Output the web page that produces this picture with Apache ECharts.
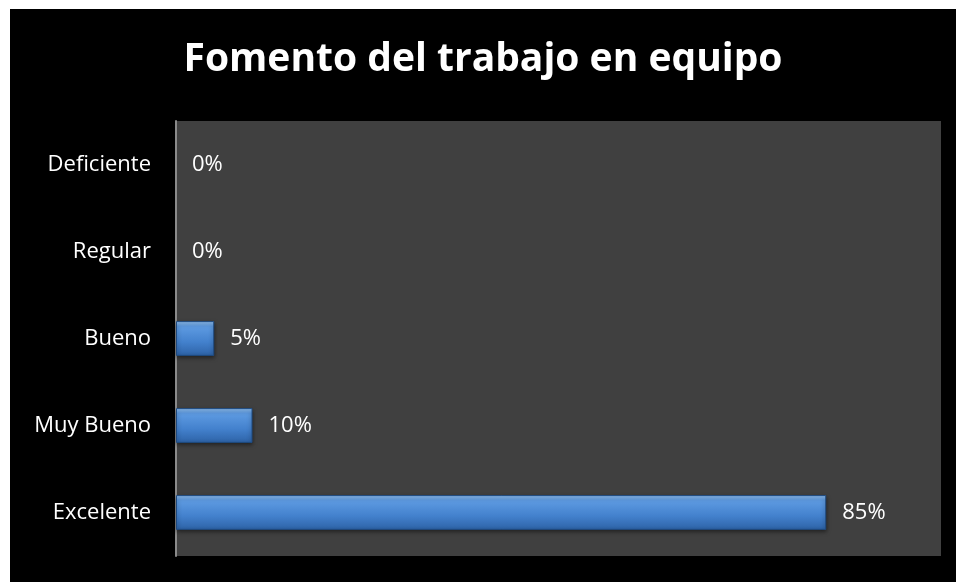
<!DOCTYPE html>
<html>
<head>
<meta charset="utf-8">
<script src="https://cdn.jsdelivr.net/npm/echarts@6/dist/echarts.min.js"></script>
<style>
    html, body { margin: 0; padding: 0; background: #fff; }
    #chart {
        position: absolute;
        left: 10px;
        top: 9px;
        width: 946px;
        height: 573px;
        background: #000;
    }
</style>
</head>
<body>
<div id="chart"></div>
<script>
// categories from top to bottom as drawn
var categories = ['Deficiente', 'Regular', 'Bueno', 'Muy Bueno', 'Excelente'];
var values = [0, 0, 5, 10, 85]; // percent
var titleText = 'Fomento del trabajo en equipo';

var myChart = echarts.init(document.getElementById('chart'));

// zero bars: no border sliver
var barData = values.map(function (v) {
    return v === 0 ? { value: v, itemStyle: { borderWidth: 0, shadowBlur: 0, opacity: 0 } } : v;
});

var options = {
    backgroundColor: '#000',
    animation: false,
    title: {
        text: titleText,
        left: 'center',
        top: 26,
        textStyle: {
            color: '#fff',
            fontFamily: 'Open Sans',
            fontWeight: 'bold',
            fontSize: 39
        }
    },
    grid: {
        left: 166,
        right: 15,
        top: 112,
        bottom: 26,
        show: true,
        backgroundColor: '#404040',
        borderWidth: 0
    },
    xAxis: {
        type: 'value',
        min: 0,
        max: 100,
        show: false
    },
    yAxis: {
        type: 'category',
        inverse: true,
        data: categories,
        axisLine: {
            show: true,
            lineStyle: { color: '#8a8a8a', width: 2 }
        },
        axisTick: { show: false },
        axisLabel: {
            color: '#fff',
            fontFamily: 'Open Sans',
            fontSize: 22,
            margin: 25
        }
    },
    series: [{
        type: 'bar',
        data: barData,
        barWidth: '40%',
        itemStyle: {
            color: new echarts.graphic.LinearGradient(0, 0, 0, 1, [
                { offset: 0, color: '#94c3f4' },
                { offset: 0.15, color: '#5e9be2' },
                { offset: 0.6, color: '#4381cd' },
                { offset: 1, color: '#2d62a6' }
            ]),
            borderColor: '#1e4a80',
            borderWidth: 1,
            shadowColor: 'rgba(0,0,0,0.5)',
            shadowBlur: 4,
            shadowOffsetY: 2
        },
        label: {
            show: true,
            position: 'right',
            distance: 16,
            color: '#fff',
            opacity: 1,
            fontFamily: 'Open Sans',
            fontSize: 22,
            formatter: function (p) { return p.value + '%'; }
        }
    }]
};
myChart.setOption(options);
window.addEventListener('resize', function () { myChart.resize(); });
</script>
</body>
</html>
